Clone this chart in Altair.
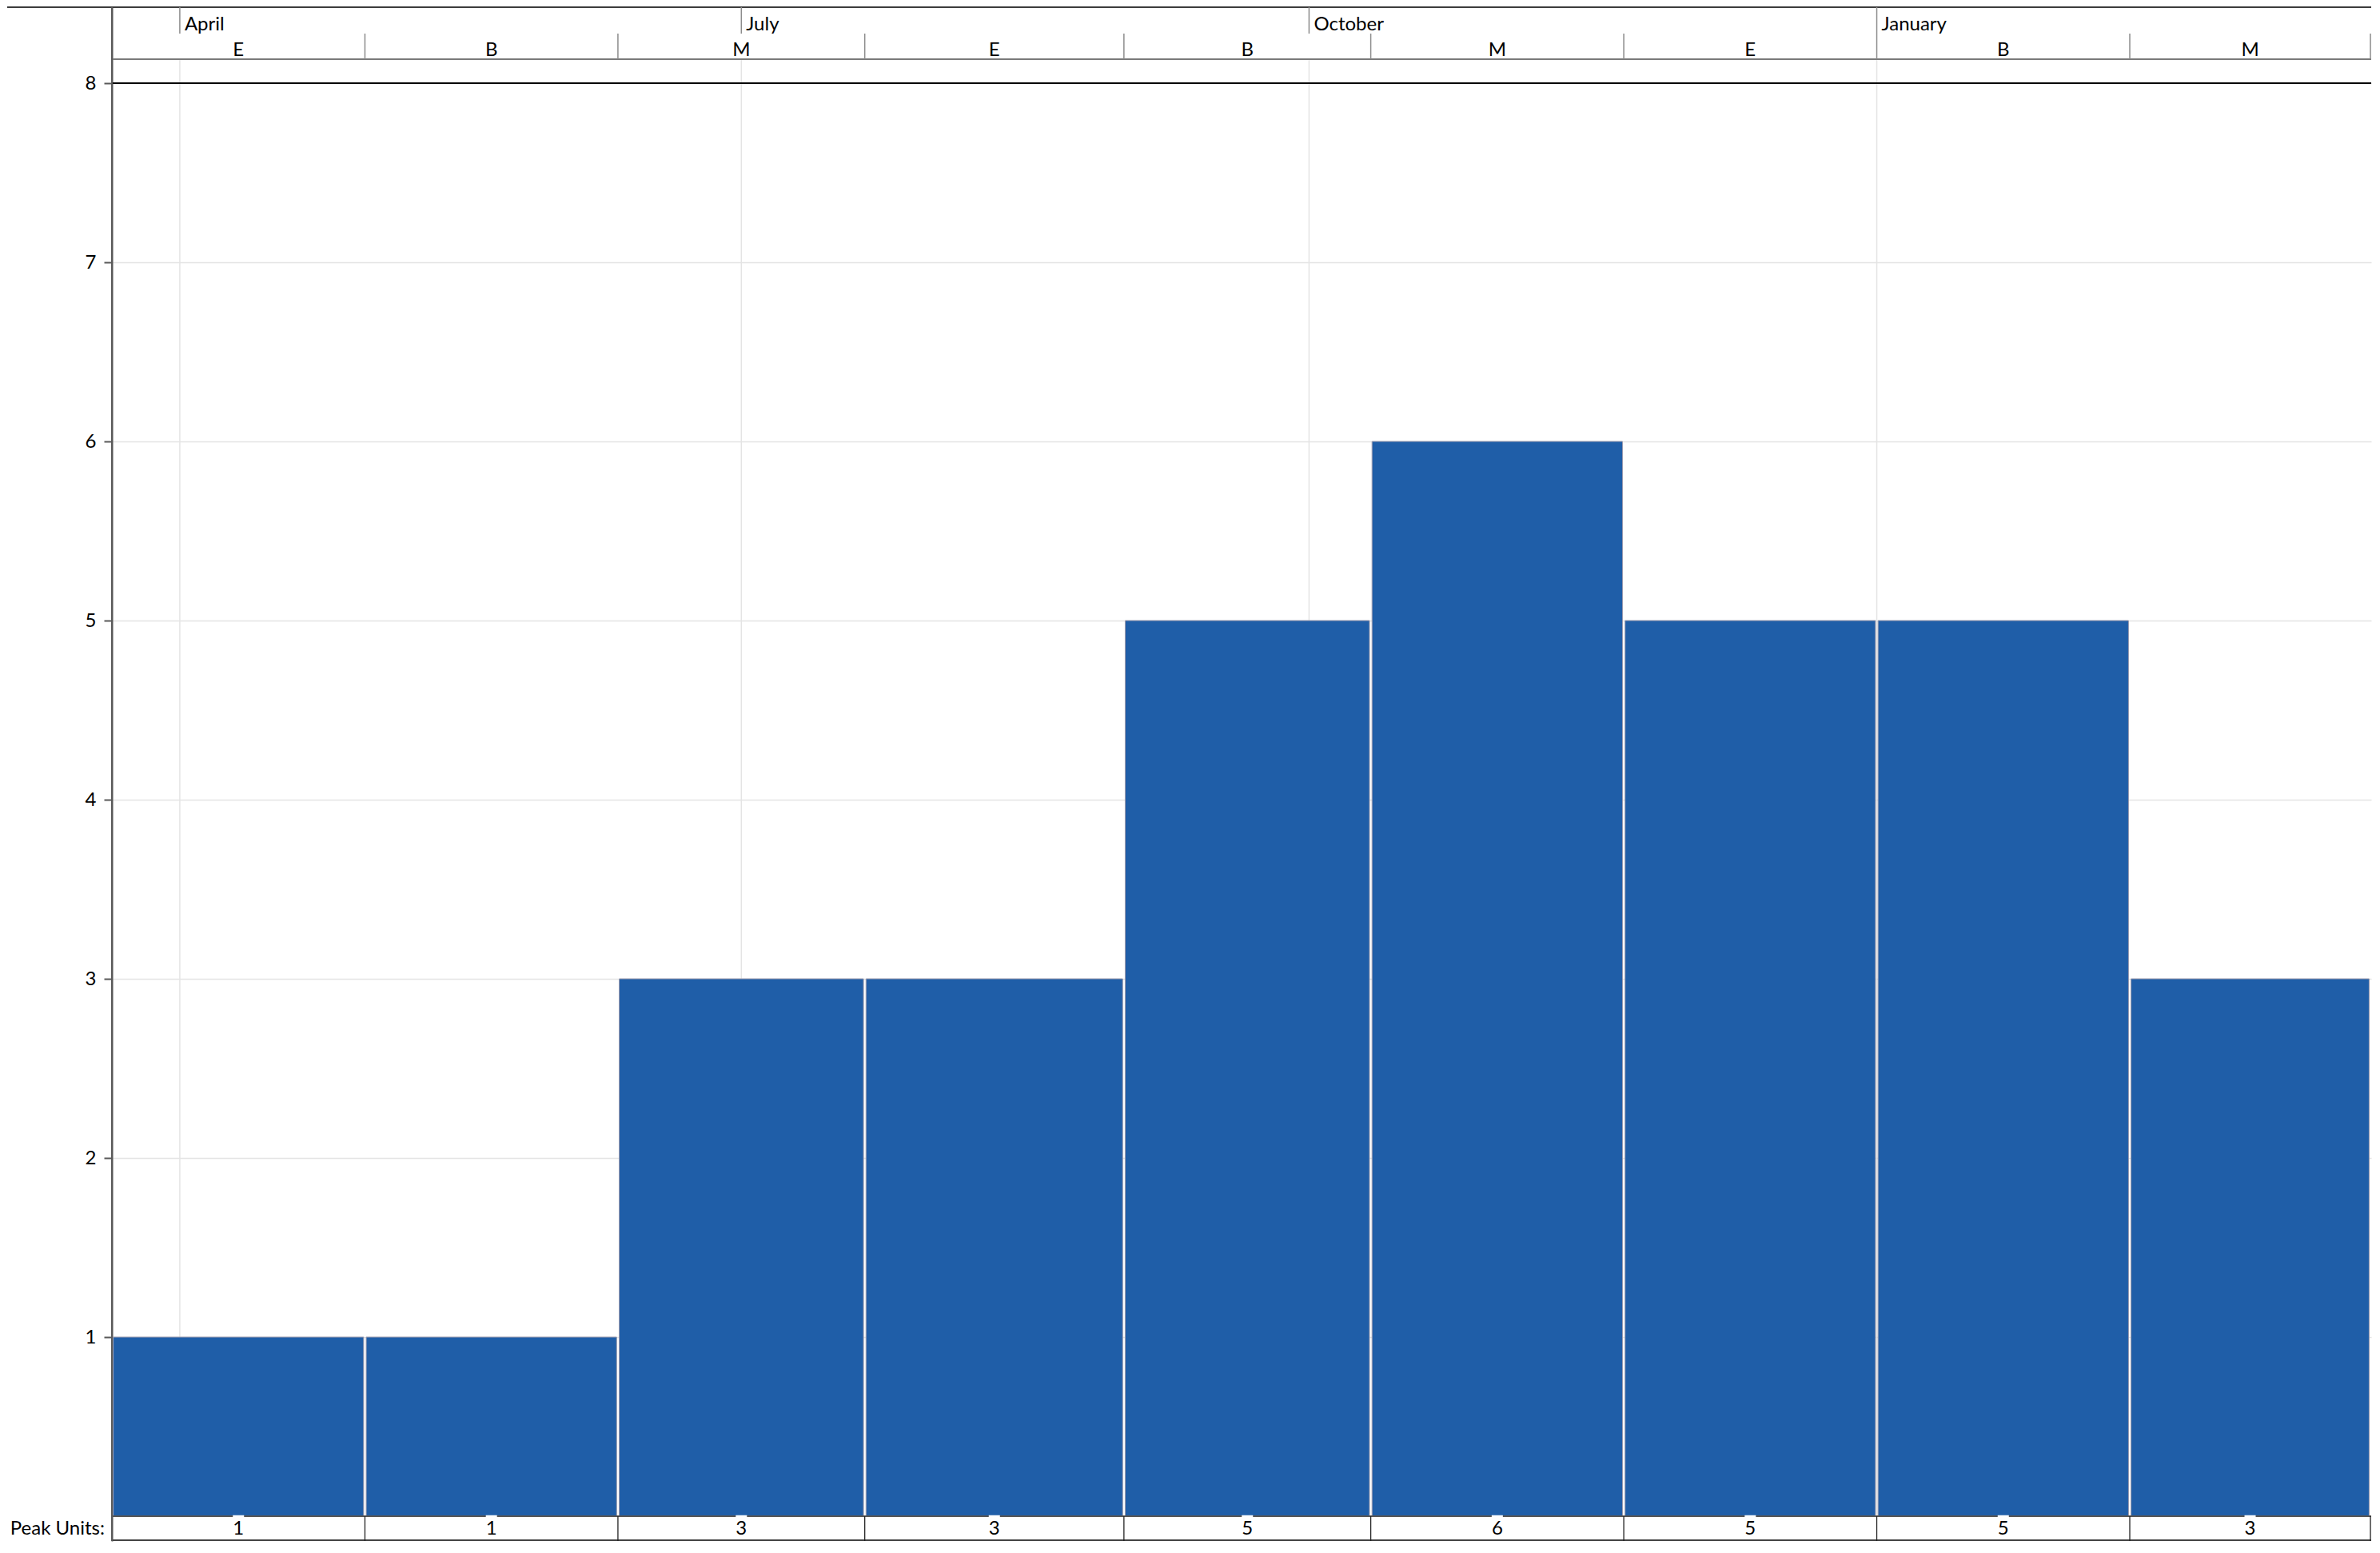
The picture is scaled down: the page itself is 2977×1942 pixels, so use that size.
import altair as alt
import pandas as pd

# ---------------- data ----------------
period_start = ["2023-03-21", "2023-05-01", "2023-06-11", "2023-07-21", "2023-09-01",
                "2023-10-11", "2023-11-21", "2024-01-01", "2024-02-11"]
period_end = ["2023-05-01", "2023-06-11", "2023-07-21", "2023-09-01", "2023-10-11",
              "2023-11-21", "2024-01-01", "2024-02-11", "2024-03-21"]
period_part = ["E", "B", "M", "E", "B", "M", "E", "B", "M"]
peak_units = [1, 1, 3, 3, 5, 6, 5, 5, 3]
month_dates = ["2023-04-01", "2023-07-01", "2023-10-01", "2024-01-01"]
month_names = ["April", "July", "October", "January"]
y_ticks = [1, 2, 3, 4, 5, 6, 7, 8]
row_label = "Peak Units:"

# ---------------- layout constants ----------------
W, H = 2826, 1918
UNIT = 224.0
YMAX = 8 + 95 / UNIT
YMIN = -31 / UNIT
Y_ROW = 8 + 62 / UNIT       # boundary between month row and period row
Y_HDR_BOT = 8 + 30 / UNIT   # bottom of header
Y_MLAB = 8 + 66 / UNIT      # month label baseline
Y_SLAB = 8 + 34 / UNIT      # period label baseline
Y_FLAB = -23 / UNIT         # footer label baseline

FONT = "Lato"
FS = 24
BLUE = "#1F5EA8"


def iso(d):
    return pd.Timestamp(d).strftime("%Y-%m-%dT%H:%M:%SZ")


s = pd.to_datetime(period_start)
e = pd.to_datetime(period_end)
periods = pd.DataFrame({
    "start": [iso(d) for d in s],
    "end": [iso(d) for d in e],
    "mid": [iso(a + (b - a) / 2) for a, b in zip(s, e)],
    "part": period_part,
    "units": peak_units,
})
bounds = pd.DataFrame({"date": [iso(d) for d in e]})
months = pd.DataFrame({"date": [iso(d) for d in month_dates], "name": month_names})
label_df = pd.DataFrame({"date": [iso(period_start[0])], "label": [row_label]})

x_scale = alt.Scale(
    type="utc",
    domain=[alt.DateTime(year=2023, month=3, date=21, utc=True),
            alt.DateTime(year=2024, month=3, date=21, hours=3, utc=True)],
)
y_scale = alt.Scale(domain=[YMIN, YMAX], nice=False, zero=False)

y_axis = alt.Axis(
    values=y_ticks, format="d", title=None, grid=True, gridColor="#e4e4e4", gridWidth=1.5,
    tickSize=10, tickColor="#595959", tickWidth=2, domainColor="#595959", domainWidth=2,
    labelFont=FONT, labelFontSize=FS, labelColor="#000000", labelPadding=10,
)


def X(field):
    return alt.X(field, type="temporal", scale=x_scale, axis=None)


def YD(v):
    return alt.YDatum(v, scale=y_scale, axis=y_axis)


# vertical month gridlines
vgrid = alt.Chart(months).mark_rule(color="#e4e4e4", strokeWidth=1.5).encode(
    x=X("date"), y=YD(Y_HDR_BOT), y2=alt.datum(0)
)

bars = alt.Chart(periods).mark_rect(
    color=BLUE, stroke="#9a9aae", strokeWidth=1, xOffset=1.6, x2Offset=-1.6
).encode(
    x=X("start"), x2="end",
    y=alt.Y("units:Q", scale=y_scale, axis=y_axis), y2=alt.datum(0),
)

line8 = alt.Chart(periods).mark_rule(color="#000000", strokeWidth=2).encode(
    y=YD(8), x=alt.value(0), x2=alt.value(W)
)
hdr_bot = alt.Chart(periods).mark_rule(color="#7a7a7a", strokeWidth=2).encode(
    y=YD(Y_HDR_BOT), x=alt.value(0), x2=alt.value(W)
)
top_line = alt.Chart(periods).mark_rule(color="#3c3c3c", strokeWidth=2).encode(
    y=YD(YMAX), x=alt.value(-131), x2=alt.value(W)
)
month_ticks = alt.Chart(months).mark_rule(color="#8c8c8c", strokeWidth=1.5).encode(
    x=X("date"), y=YD(YMAX), y2=alt.datum(Y_ROW)
)
part_seps = alt.Chart(bounds).mark_rule(color="#8c8c8c", strokeWidth=1.5).encode(
    x=X("date"), y=YD(Y_ROW), y2=alt.datum(Y_HDR_BOT)
)
month_text = alt.Chart(months).mark_text(
    align="left", baseline="alphabetic", dx=6, font=FONT, fontSize=FS, color="#000000"
).encode(x=X("date"), y=YD(Y_MLAB), text="name:N")
part_text = alt.Chart(periods).mark_text(
    align="center", baseline="alphabetic", font=FONT, fontSize=FS, color="#000000"
).encode(x=X("mid"), y=YD(Y_SLAB), text="part:N")

foot_top = alt.Chart(periods).mark_rule(color="#555555", strokeWidth=2).encode(
    y=YD(0), x=alt.value(0), x2=alt.value(W)
)
notches = alt.Chart(periods).mark_tick(
    orient="horizontal", color="white", size=14, thickness=2.5, opacity=1
).encode(x=X("mid"), y=YD(0))
foot_bot = alt.Chart(periods).mark_rule(color="#444444", strokeWidth=2).encode(
    y=YD(YMIN + 1 / UNIT), x=alt.value(0), x2=alt.value(W)
)
foot_seps = alt.Chart(bounds).mark_rule(color="#222222", strokeWidth=1.3).encode(
    x=X("date"), y=YD(0), y2=alt.datum(YMIN)
)
foot_text = alt.Chart(periods).mark_text(
    align="center", baseline="alphabetic", font=FONT, fontSize=FS, color="#000000"
).encode(x=X("mid"), y=YD(Y_FLAB), text="units:Q")
row_text = alt.Chart(label_df).mark_text(
    align="right", baseline="alphabetic", dx=-9, font=FONT, fontSize=FS, color="#000000"
).encode(x=X("date"), y=YD(Y_FLAB), text="label:N")
left_line = alt.Chart(label_df).mark_rule(color="#595959", strokeWidth=2).encode(
    x=X("date"), y=YD(YMAX), y2=alt.datum(YMIN)
)

chart = alt.layer(
    vgrid, bars, line8, hdr_bot, top_line, month_ticks, part_seps, month_text, part_text,
    foot_top, notches, foot_bot, foot_seps, foot_text, row_text, left_line,
).properties(
    width=W, height=H, padding={"left": 0, "right": 0, "top": 0, "bottom": 0},
    background="white",
).configure_view(stroke=None)

chart.save("out.html", embed_options={"renderer": "svg", "actions": False})
